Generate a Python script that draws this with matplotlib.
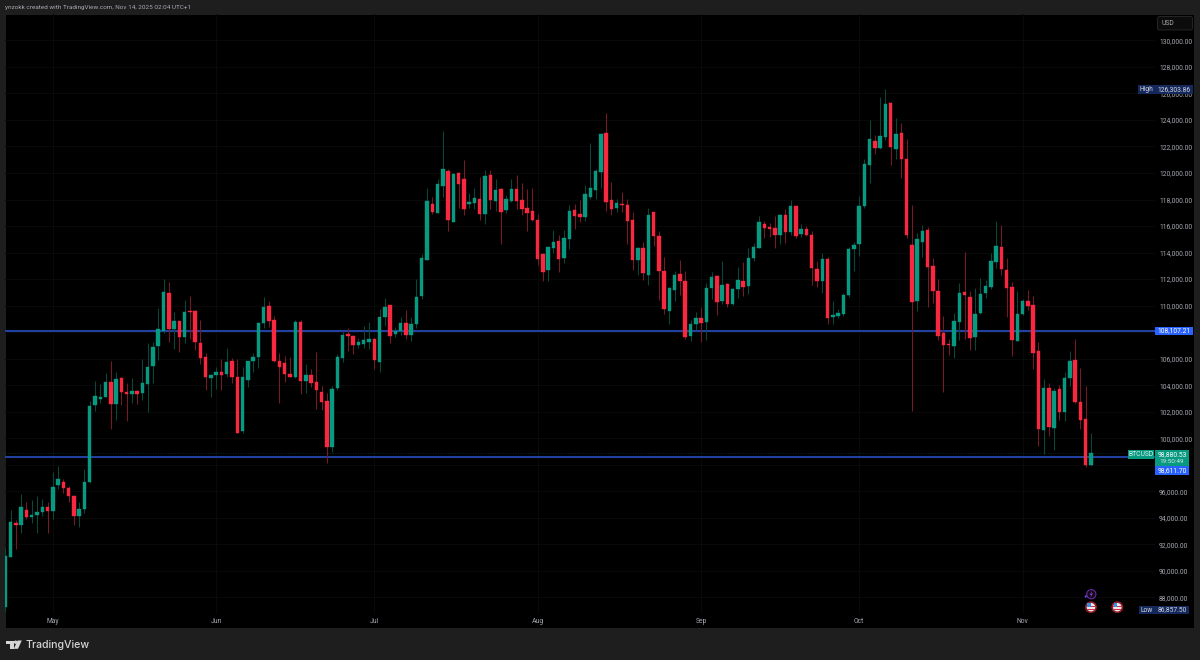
import pandas as pd
import matplotlib
matplotlib.use("Agg")
import matplotlib.pyplot as plt
import matplotlib.dates as mdates
from matplotlib.patches import Rectangle, FancyBboxPatch, Circle, Polygon
from matplotlib.transforms import Affine2D

# BTCUSD daily candles, one row per session starting 22 Apr 2025
opens = [87290, 91070, 93630, 93430, 94590, 94080, 94210, 94410, 94790, 94530,
         96450, 96670, 96270, 95640, 94160, 94640, 96720, 102480, 102930, 103130,
         104210, 102600, 104510, 103510, 103340, 103540, 103380, 104110, 105440, 106980,
         108110, 110980, 108240, 108810, 107660, 109590, 109570, 107200, 106120, 104540,
         104770, 104970, 104870, 105800, 104590, 100570, 104420, 105820, 106150, 108710,
         109950, 108920, 105820, 105650, 104820, 104610, 108760, 104310, 104770, 104240,
         103460, 102780, 99340, 103810, 106050, 107860, 107710, 107030, 107130, 107250,
         107510, 105770, 109140, 110020, 107880, 108060, 108690, 107810, 108610, 110700,
         113460, 117640, 117010, 119040, 120150, 116330, 120030, 119550, 117660, 117710,
         118040, 116880, 119820, 117890, 118770, 117210, 117860, 118770, 117960, 117390,
         117130, 116460, 113890, 112680, 114320, 114850, 113610, 115000, 117210, 116880,
         116710, 118190, 118740, 120080, 122990, 117940, 117360, 117690, 117610, 116460,
         113440, 114370, 112310, 117030, 115250, 112630, 109620, 111180, 112360, 111880,
         107710, 108590, 109060, 108760, 111330, 112230, 110350, 111650, 110120, 111230,
         111880, 111480, 113620, 114370, 116130, 115930, 115850, 115350, 116830, 115550,
         117510, 115400, 115750, 115350, 112760, 111880, 113510, 109170, 109220, 109370,
         110800, 114270, 114670, 117540, 120600, 122440, 121860, 122690, 125280, 121810,
         122990, 121080, 114600, 110350, 114820, 115730, 112990, 111100, 107910, 107100,
         106950, 108790, 111030, 110650, 107630, 109420, 110950, 111380, 113310, 114390,
         112660, 111380, 107330, 109340, 110350, 110020, 106580, 100590, 103760, 100770,
         103680, 101950, 104510, 105900, 102730, 101470, 97980]
highs = [91690, 94590, 93830, 95790, 95190, 95340, 95640, 95440, 95190, 97450,
         97900, 96900, 96400, 95690, 95190, 97650, 102830, 104340, 104090, 104940,
         105800, 104990, 104590, 104140, 104540, 103640, 106000, 107160, 107280, 109800,
         111980, 111810, 109490, 108870, 110420, 110730, 109670, 108920, 106400, 104840,
         105350, 105950, 106800, 106020, 105950, 105350, 105850, 106400, 108760, 110620,
         110370, 109220, 106400, 106200, 106150, 108910, 108910, 105570, 105190, 106500,
         103960, 103380, 103930, 106350, 108110, 108310, 107780, 107530, 108460, 108790,
         107580, 109770, 110570, 110040, 108410, 109110, 109670, 109160, 112030, 113870,
         118870, 118170, 119520, 123190, 120330, 120030, 120080, 120980, 118520, 118870,
         119670, 120230, 120230, 119520, 118840, 118370, 119520, 119820, 119270, 118770,
         118870, 116910, 113990, 114490, 115700, 115320, 115700, 117560, 117660, 117960,
         119100, 122290, 120280, 123000, 124500, 119300, 118010, 118590, 118040, 117030,
         114390, 114820, 117390, 117080, 115630, 113640, 111380, 112580, 113440, 112580,
         108910, 109490, 109870, 111730, 112530, 112280, 113340, 111700, 111350, 112890,
         113260, 114320, 114700, 116760, 116400, 116200, 116760, 116910, 117310, 117960,
         117540, 116150, 116000, 115600, 113340, 113940, 113690, 110350, 109770, 110920,
         114440, 114820, 118270, 121060, 124000, 122870, 125710, 126303.86, 125360, 124170,
         123800, 122540, 117560, 115500, 116050, 115900, 113590, 111980, 109220, 107460,
         109470, 111680, 114040, 111100, 111300, 112080, 111930, 113990, 116380, 116080,
         113610, 111780, 111080, 110500, 111180, 110700, 107280, 104460, 104190, 103760,
         103990, 104970, 106600, 107460, 105270, 103940, 100420]
lows = [86857.5, 91020, 91670, 92830, 93880, 93630, 92830, 94160, 92830, 93930,
        96190, 95840, 95190, 93430, 93330, 94380, 96650, 102080, 102680, 103080,
        100690, 101370, 102530, 101320, 102630, 102580, 102880, 102000, 104190, 105900,
        107960, 107260, 106750, 106530, 107160, 107460, 106650, 105600, 103640, 103080,
        103740, 103640, 104590, 104190, 100370, 100420, 103890, 105020, 105320, 108290,
        108360, 105770, 102630, 104260, 104590, 104510, 103330, 103380, 103840, 102230,
        102120, 98100, 98960, 103630, 105750, 106550, 106350, 106830, 106780, 106730,
        105190, 105020, 108460, 107200, 107660, 107810, 107460, 107350, 108280, 110470,
        113440, 116910, 116960, 118170, 115650, 116300, 117360, 116810, 117390, 117310,
        116460, 116150, 117260, 117160, 114650, 116960, 117810, 117310, 116860, 115650,
        116400, 113040, 111880, 111830, 113990, 112530, 113190, 114240, 115800, 116300,
        116400, 118070, 118010, 118870, 117160, 116810, 117060, 117080, 114650, 112690,
        112330, 111930, 111550, 114520, 110420, 109370, 108610, 110320, 110820, 107460,
        107360, 108160, 107230, 107410, 110470, 109290, 110120, 109920, 110070, 110550,
        110720, 110880, 113340, 114340, 115100, 115200, 114340, 114670, 114700, 115350,
        115070, 115150, 115250, 111550, 111430, 110980, 108610, 108610, 109060, 109220,
        110620, 112630, 113740, 117360, 119270, 121430, 121840, 122490, 120580, 121030,
        119620, 115100, 102050, 109620, 113690, 109870, 110170, 107410, 103480, 106300,
        106070, 107410, 107460, 106650, 106650, 109370, 110570, 111250, 112840, 112280,
        109140, 106220, 107300, 109270, 109670, 105240, 99410, 98810, 100190, 99110,
        101370, 101270, 103940, 102680, 100690, 97850, 97900]
closes = [91120, 93710, 93430, 94840, 94080, 94210, 94430, 94790, 94480, 96350,
          96920, 96270, 95620, 94160, 94640, 96720, 102430, 103180, 103130, 104260,
          102600, 104490, 103490, 103360, 103560, 103360, 104140, 105400, 106850, 108210,
          111000, 108240, 108810, 107630, 109490, 109520, 107230, 106070, 104620, 104770,
          104970, 104790, 105750, 104590, 100420, 104590, 105820, 106150, 108660, 109920,
          108810, 105850, 105370, 104820, 104640, 108760, 104340, 104770, 104160, 103610,
          102730, 99360, 103680, 106120, 107810, 107710, 107030, 107230, 107400, 107480,
          105900, 109160, 109920, 107710, 108110, 108710, 107810, 108610, 110670, 113590,
          117860, 117060, 119170, 120330, 116460, 119950, 119170, 117310, 117790, 118090,
          116910, 119770, 117960, 118720, 117080, 118010, 118770, 117860, 117290, 117010,
          116460, 113540, 112530, 114420, 114800, 113510, 115070, 117130, 116760, 116710,
          118420, 118840, 120180, 122940, 117790, 117290, 117710, 117590, 116380, 113440,
          114340, 112430, 116830, 115250, 112610, 109720, 111300, 112310, 111860, 107630,
          108640, 109060, 108690, 111330, 112160, 110300, 111530, 110100, 111280, 111930,
          111380, 113620, 114420, 116330, 115880, 115780, 115320, 116830, 115550, 117540,
          115250, 115780, 115320, 112840, 111880, 113540, 109060, 109290, 109420, 110820,
          114270, 114600, 117510, 120650, 122590, 121890, 122770, 125230, 121960, 122920,
          121080, 115300, 110300, 115020, 115650, 112940, 111130, 107730, 107030, 107030,
          108810, 110980, 110820, 107580, 109370, 110900, 111450, 113340, 114520, 112760,
          111300, 107410, 109370, 110320, 109990, 106400, 100670, 103810, 100820, 103560,
          101950, 104510, 105850, 102700, 101370, 97980, 98880.53]
month_labels = ["May", "Jun", "Jul", "Aug", "Sep", "Oct", "Nov"]
month_starts = ["2025-05-01", "2025-06-01", "2025-07-01", "2025-08-01",
                "2025-09-01", "2025-10-01", "2025-11-01"]
price_ticks = list(range(88000, 132000, 2000))
covered_ticks = [98000, 108000]  # these two sit under the price-scale tags
support_levels = [108107.21, 98611.70]
high_price = 126303.86
low_price = 86857.50
last_price = 98880.53
countdown = "19:50:49"
symbol = "BTCUSD"

UP = "#089981"
DOWN = "#f7283f"
UP_WICK = "#07483d"
DOWN_WICK = "#781a26"
FRAME = "#1e1e1e"
GRID = "#090909"
LEVEL = "#21409f"
TAG_BLUE = "#2962ff"
TAG_NAVY = "#14285c"
AXIS_TEXT = "#a6a9b2"

plt.rcParams["font.family"] = ["Roboto", "DejaVu Sans"]

fig = plt.figure(figsize=(12, 6.6), dpi=100, facecolor=FRAME)
W, H = 1200, 660
# pixel coordinates with the origin at the top left, for the chrome around the chart
px = Affine2D().scale(1, -1).translate(0, H)

fig.add_artist(Rectangle((5, 13.5), 1189, 614.5, transform=px, fc="black", ec="#262626", lw=0.5, zorder=-1))

ax = fig.add_axes([5 / W, 1 - 614 / H, 1150 / W, 600 / H], facecolor="none", zorder=2)
dates = pd.date_range("2025-04-22", periods=len(closes), freq="D")
x = mdates.date2num(dates)
day_px = 5.27
ax.set_xlim(x[0] - 0.4 / day_px, x[0] + (1155 - 5.4) / day_px)
usd_per_px = 2000 / 26.52
ax.set_ylim(130000 - (614 - 40.4) * usd_per_px, 130000 + (40.4 - 14) * usd_per_px)

for s in ax.spines.values():
    s.set_visible(False)
ax.set_yticks(price_ticks)
ax.set_yticklabels(["" if p in covered_ticks else f"{p:,.2f}" for p in price_ticks],
                   fontsize=4.9, color=AXIS_TEXT)
ax.set_xticks(mdates.date2num(pd.to_datetime(month_starts)))
ax.set_xticklabels(month_labels, fontsize=4.9, color=AXIS_TEXT)
ax.yaxis.tick_right()
ax.tick_params(axis="both", length=0)
ax.tick_params(axis="y", pad=2.9)
ax.tick_params(axis="x", pad=2.8)
ax.grid(True, color=GRID, lw=0.8)
ax.set_axisbelow(True)

# horizontal levels and the dotted last-price line sit underneath the candles
for level in support_levels:
    ax.axhline(level, color=LEVEL, lw=1.5, zorder=1.5)
ax.axhline(last_price, color=UP, lw=0.6, ls=(0, (1, 2)), alpha=0.35, zorder=1.4)

colors = [UP if c >= o else DOWN for o, c in zip(opens, closes)]
wick_colors = [UP_WICK if c >= o else DOWN_WICK for o, c in zip(opens, closes)]
ax.vlines(x, lows, highs, colors=wick_colors, lw=0.75, zorder=2)
bottoms = [min(o, c) for o, c in zip(opens, closes)]
spans = [abs(c - o) for o, c in zip(opens, closes)]
ax.bar(x, spans, bottom=bottoms, width=0.66, color=colors, edgecolor=colors, lw=0.3, zorder=3)


def tag(x0, y0, x1, y1, color, text, tcolor="white", cx=None):
    """Filled price-scale label given in pixel coordinates."""
    fig.add_artist(Rectangle((x0, y0), x1 - x0, y1 - y0, transform=px, fc=color, ec="none", zorder=6))
    if text:
        fig.text((cx if cx is not None else (x0 + x1) / 2) / W, 1 - ((y0 + y1) / 2) / H, text,
                 color=tcolor, fontsize=4.9, ha="center", va="center", zorder=7)


# price-scale labels
y_of = lambda p: 40.4 + (130000 - p) / usd_per_px
yh = y_of(high_price)
tag(1138, yh - 4.3, 1154.6, yh + 4.5, TAG_NAVY, "High", "#d1d4dc")
tag(1155, yh - 4.3, 1193, yh + 4.5, TAG_NAVY, f"{high_price:,.2f}", "#d1d4dc")
yl = 610
tag(1139, yl - 4, 1154.6, yl + 4, TAG_NAVY, "Low", "#d1d4dc")
tag(1155, yl - 4, 1189, yl + 4, TAG_NAVY, f"{low_price:,.2f}", "#d1d4dc")
y1 = y_of(support_levels[0])
tag(1155, y1 - 4, 1193, y1 + 4, TAG_BLUE, f"{support_levels[0]:,.2f}")
tag(1128, 450, 1154, 459, UP, symbol, "#d8f0ea")
tag(1155, 450, 1189, 466, UP, "")
fig.text(1172 / W, 1 - 454.5 / H, f"{last_price:,.2f}", color="white", fontsize=4.9, ha="center", va="center", zorder=7)
fig.text(1172 / W, 1 - 461.4 / H, countdown, color="#cfeae4", fontsize=4.6, ha="center", va="center", zorder=7)
tag(1155, 466, 1189, 475, TAG_BLUE, f"{support_levels[1]:,.2f}")

# currency button at the top of the price scale
fig.add_artist(FancyBboxPatch((1158, 17), 34, 12.5, boxstyle="round,pad=0.5,rounding_size=2", transform=px,
                              fc="#0c0c0c", ec="#2a2a2a", lw=0.6, zorder=6))
fig.text(1161.5 / W, 1 - 23.2 / H, "USD", color=AXIS_TEXT, fontsize=4.9, ha="left", va="center", zorder=7)

# event markers under the last candles
fig.add_artist(Circle((1091.3, 594.2), 4.6, transform=px, fc="#120a18", ec="#6a2aa0", lw=0.8, zorder=6))
fig.add_artist(Polygon([(1092.4, 590.8), (1089.6, 594.8), (1091.2, 594.8), (1090.2, 597.6), (1093, 593.6), (1091.4, 593.6)],
                       transform=px, fc="#8e3cc8", ec="none", zorder=7))
fig.add_artist(Polygon([(1084.5, 596.5), (1085.6, 595.5), (1084.5, 594.5), (1087.5, 596), (1085.6, 598)],
                       transform=px, fc="#6a45e8", ec="none", zorder=7))
for cx in (1091, 1117.3):
    fig.add_artist(Circle((cx, 607.2), 5.1, transform=px, fc="#e8e8ee", ec="#8f1b26", lw=1.2, zorder=6))
    fig.add_artist(Rectangle((cx - 4.2, 605.8), 8.4, 1.3, transform=px, fc="#d8343f", ec="none", zorder=7))
    fig.add_artist(Rectangle((cx - 3.6, 608.8), 7.2, 1.3, transform=px, fc="#d8343f", ec="none", zorder=7))
    fig.add_artist(Rectangle((cx - 3.6, 603.4), 3.6, 3.4, transform=px, fc="#3d8ee0", ec="none", zorder=8))

# header caption and footer wordmark
fig.text(5 / W, 1 - 7.2 / H, "ynzokk created with TradingView.com, Nov 14, 2025 02:04 UTC+1",
         color=AXIS_TEXT, fontsize=4.6, ha="left", va="center")
logo = "#d6d6d6"
fig.add_artist(Polygon([(6, 640.5), (14, 640.5), (14, 648.8), (10, 648.8), (10, 644.2), (6, 644.2)],
                       transform=px, fc=logo, ec="none"))
fig.add_artist(Circle((15.6, 642.2), 1.7, transform=px, fc=logo, ec="none"))
fig.add_artist(Polygon([(17.6, 640.5), (21.8, 640.5), (18, 648.8), (13.8, 648.8)], transform=px, fc=logo, ec="none"))
fig.text(25.5 / W, 1 - 644.6 / H, "TradingView", color=logo, fontsize=7.6, fontweight="medium",
         family=["Inter", "DejaVu Sans"], ha="left", va="center")

fig.savefig("out.png", dpi=100, facecolor=fig.get_facecolor())
